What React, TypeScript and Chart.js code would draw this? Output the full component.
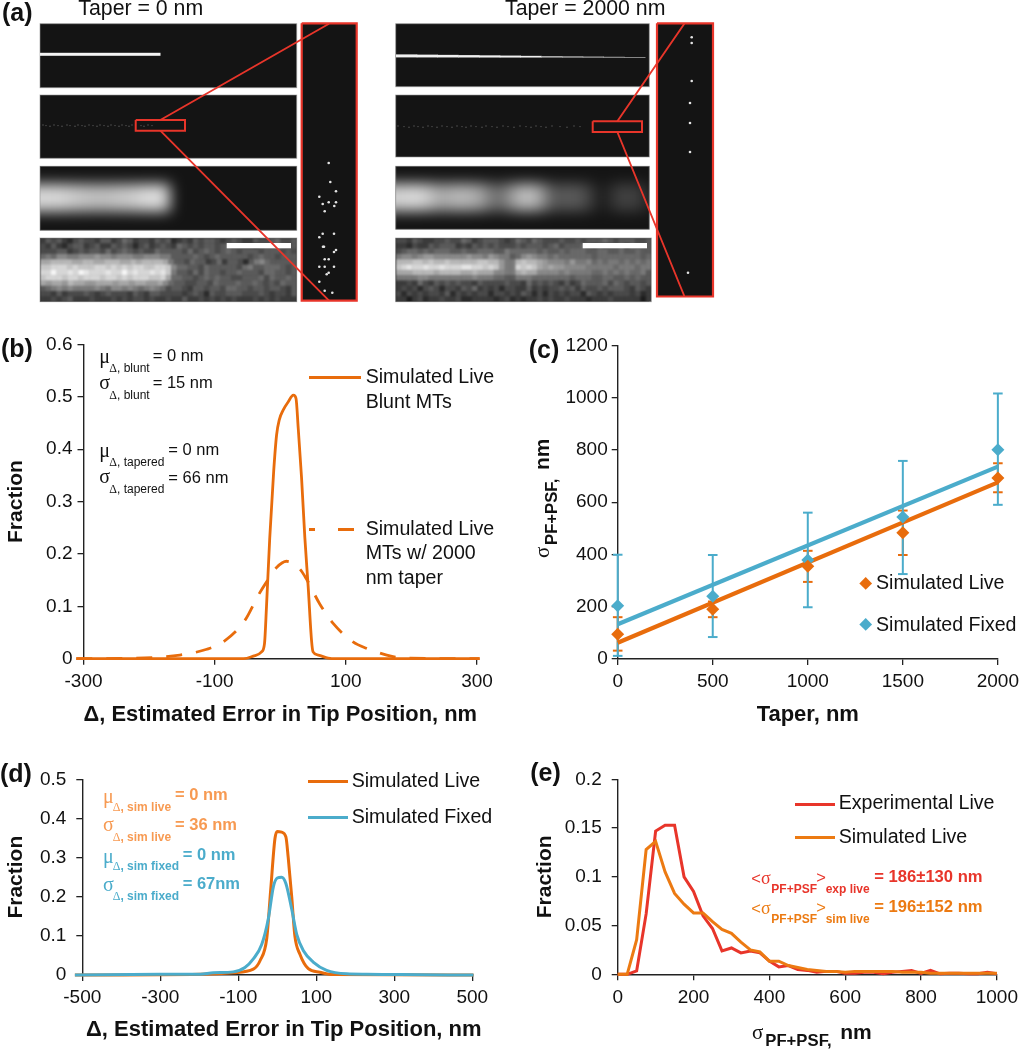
import React, { useEffect, useRef } from "react";
import { Chart, registerables } from "chart.js";

Chart.register(...registerables);

/* ---------- data ---------- */
const BLUNT_X = [-311, -200, -56, -41, -28.5, -24, -21, -16, -10, -5.6, -1.5, 4.6, 12, 20, 24, 27.4, 32.5, 37.5, 42.6, 47.7, 50, 58, 73, 86, 200, 304];
const BLUNT_Y = [0, 0, 0, 0.005, 0.013, 0.029, 0.099, 0.231, 0.358, 0.427, 0.456, 0.475, 0.49, 0.503, 0.497, 0.44, 0.345, 0.231, 0.137, 0.035, 0.013, 0.007, 0.001, 0, 0, 0];
const TAPERED_X = [-311, -220, -153, -112, -87, -54, -33.5, -18, -5.6, 9.6, 30, 40, 60, 81, 111, 131, 172, 197, 304];
const TAPERED_Y = [0, 0.001, 0.007, 0.018, 0.032, 0.073, 0.121, 0.152, 0.174, 0.186, 0.171, 0.152, 0.105, 0.067, 0.032, 0.02, 0.004, 0.001, 0];

const TAPER = [0, 500, 1000, 1500, 2000];
const LIVE_SIGMA = [95, 190, 355, 483, 693];
const LIVE_LOW = [32, 160, 295, 398, 638];
const LIVE_HIGH = [160, 220, 414, 568, 749];
const FIXED_SIGMA = [204, 240, 379, 543, 801];
const FIXED_LOW = [12, 84, 198, 325, 590];
const FIXED_HIGH = [399, 398, 560, 758, 1016];
const FIT_X = [0, 2000];
const LIVE_FIT = [62, 676];
const FIXED_FIT = [133, 736];

const D_LIVE_X = [-519, -198, -113, -61.5, -44, -27, -17, -6, 0, 11, 22, 28, 37, 45, 58, 79.5, 109, 144, 503];
const D_LIVE_Y = [0, 0.002, 0.006, 0.015, 0.037, 0.094, 0.217, 0.349, 0.367, 0.365, 0.353, 0.3, 0.2, 0.1, 0.053, 0.016, 0.007, 0.001, 0];
const D_FIXED_X = [-519, -301, -198, -164, -113, -83, -61.5, -40, -23, -10, 0, 11, 22, 37, 50, 67, 92, 126.5, 178, 229, 315, 503];
const D_FIXED_Y = [0, 0.002, 0.002, 0.006, 0.008, 0.019, 0.041, 0.078, 0.144, 0.226, 0.248, 0.25, 0.234, 0.168, 0.103, 0.062, 0.033, 0.012, 0.003, 0.002, 0.001, 0];

const E_BINS = [0, 25, 50, 75, 100, 125, 150, 175, 200, 225, 250, 275, 300, 325, 350, 375, 400, 425, 450, 475, 500, 525, 550, 575, 600, 625, 650, 675, 700, 725, 750, 775, 800, 825, 850, 875, 900, 925, 950, 975, 1000];
const E_EXPERIMENTAL = [0, 0, 0.0036, 0.062, 0.147, 0.153, 0.153, 0.1, 0.085, 0.06, 0.047, 0.024, 0.027, 0.022, 0.024, 0.022, 0.0135, 0.0076, 0.009, 0.005, 0.004, 0.002, 0.003, 0.003, 0.001, 0.001, 0.002, 0.002, 0.0005, 0.002, 0.003, 0.004, 0.001, 0.004, 0.0005, 0.001, 0.001, 0.0005, 0.0005, 0.002, 0.0005];
const E_SIMULATED = [0, 0, 0.0355, 0.128, 0.1365, 0.105, 0.083, 0.072, 0.063, 0.063, 0.054, 0.046, 0.042, 0.033, 0.025, 0.023, 0.0135, 0.0135, 0.009, 0.007, 0.005, 0.004, 0.003, 0.003, 0.002, 0.003, 0.003, 0.003, 0.003, 0.003, 0.002, 0.002, 0.002, 0.001, 0.001, 0.001, 0.001, 0.001, 0.001, 0.001, 0.001];

/* panel (a): intensities of the micrographs */
const LEFT_CAMERA = [
  "35453245443553465344354523435455434543354456445",
  "43532455345335454245345436545455456554435556545",
  "44455345455464565454465555464565456545554555454",
  "67688778889887888778887755556545655555456554555",
  "aabbbbaabbaabbbaababbbba755465534635542578655555",
  "ccdddcdcccddcdcdcddccddc86655465555546755666545",
  "ddfddedfedddeddfdeddedec75546465545565554665545",
  "cdddcddcdddcddcdcdddccda66554565655445556465565",
  "a9aa9baa99aaa9aa9aa99a865544554655565565454655",
  "56787877778768878767876455435545546655455455435",
  "44353444543454443543554444345425445554445434435",
  "33434533343334343443433433533434343433343434333",
];
const RIGHT_CAMERA = [
  "44354334454465345554346546544454454555654555445",
  "33243354555343545454445455545645556545455646555",
  "45665656665565566655766666565565666556655655655",
  "78878998888889887987756898776766666656666666656",
  "bbbccbcbbcbbbbbccbb977bcbba98887977867677676767",
  "cdeddeddedddeeddcdc977dcdca9a998888777776777677",
  "aaabbbbabbbbaabaaa8877abaa888878777766767676675",
  "77778877777777877766557776666666566655665565655",
  "33436435454544354444544364545435346555646545545",
  "34342454244354634342443353434454535445455543543",
  "42434344352434344244343542424343442543434443423",
  "33134233433422333323423233434334333233343333313",
];
const LEFT_GLOW = [215, 215, 210, 200, 195, 190, 190, 195, 200, 205, 218, 222, 205];
const RIGHT_GLOW = [210, 215, 215, 190, 170, 175, 185, 175, 165, 120, 110, 150, 185, 190, 160, 95, 85, 90, 85, 60, 25, 45, 65, 65, 55, 30];
const TAPER_WIDTHS = [3, 2.8, 2.6, 2.4, 2.2, 2, 1.7, 1.5, 1.3, 1.1, 0.9, 0.7];
const LEFT_INSET_DOTS = [[328.7, 163], [330.3, 182], [336, 191.3], [319.3, 196.7], [322.7, 204], [328.7, 202.3], [336, 202.3], [334.3, 206], [324.7, 211.3], [322.7, 233.7], [334, 233.7], [319.3, 237.3], [323, 246.7], [324, 246.7], [336, 250], [334, 252], [324.7, 259.3], [328.7, 259.3], [319.3, 266.7], [324.7, 266.7], [334, 266.7], [328.7, 272.7], [326.7, 274.3], [319.3, 281.7], [324.7, 290.7], [332.3, 292.7]];
const RIGHT_INSET_DOTS = [[691.7, 37.3], [691.7, 43], [691.7, 81], [690, 103], [690, 123], [690, 152], [688, 272.7]];
const LEFT_SPECKS = [43, 46, 50, 54, 58, 62, 67, 70, 75, 78, 82, 85, 89, 93, 97, 100, 104, 108, 111, 115, 119, 122, 126, 129, 132, 141, 144, 148, 152];
const RIGHT_SPECKS = [398, 404, 409, 414, 418, 423, 428, 432, 437, 442, 447, 452, 457, 462, 466, 471, 476, 482, 486, 492, 497, 503, 508, 514, 520, 526, 531, 536, 541, 546, 552, 560, 567, 574, 580];

/* ---------- styles and layout ---------- */
const ORANGE = "#e86c0c";
const ORANGE_E = "#ec7a12";
const TEAL = "#4baccb";
const RED = "#e8352a";
const SOFT_ORANGE = "#f79a52";
const INK = "#111";
const SANS = '"Liberation Sans", Arial, sans-serif';
const SERIF = '"Liberation Serif", serif';
const DARK = "#141414";

const zip = (xs: number[], ys: number[]) => xs.map((x, i) => ({ x, y: ys[i] }));

type Geom = { x: number; y: number; w: number; h: number; l: number; r: number; t: number; b: number };

function axis(g: Geom, horizontal: boolean, o: any) {
  return {
    type: "linear",
    min: o.min,
    max: o.max,
    title: o.title
      ? { display: true, text: o.title, color: INK, padding: o.titlePad ?? 0, font: { family: SANS, size: o.titleSize, weight: "bold" } }
      : { display: false },
    border: { display: true, color: "#222", width: 1.4 },
    grid: { drawOnChartArea: false, drawTicks: true, tickLength: 6, color: "#222", lineWidth: 1.3 },
    ticks: {
      stepSize: o.step,
      autoSkip: false,
      maxRotation: 0,
      minRotation: 0,
      padding: o.pad,
      color: INK,
      font: { family: SANS, size: 19 },
      callback: (v: number) => String(Number(Number(v).toFixed(2))),
    },
    afterFit: (s: any) => {
      if (horizontal) s.height = g.y + g.h - g.b;
      else s.width = g.l - g.x;
    },
  };
}

function plotOptions(g: Geom, xo: any, yo: any) {
  return {
    responsive: false,
    animation: false,
    events: [],
    layout: { autoPadding: false, padding: { left: 0, bottom: 0, top: g.t - g.y, right: g.x + g.w - g.r } },
    plugins: { legend: { display: false }, tooltip: { enabled: false } },
    scales: { x: axis(g, true, xo), y: axis(g, false, yo) },
  };
}

function curve(data: any[], color: string, width: number, extra: any = {}) {
  return {
    data,
    showLine: true,
    borderColor: color,
    backgroundColor: color,
    borderWidth: width,
    pointRadius: 0,
    cubicInterpolationMode: "monotone",
    clip: false,
    ...extra,
  };
}

function stems(xs: number[], lows: number[], highs: number[], color: string) {
  const data: any[] = [];
  xs.forEach((x, i) => {
    data.push({ x, y: lows[i] }, { x, y: highs[i] }, { x, y: null });
  });
  return { data, showLine: true, spanGaps: false, borderColor: color, borderWidth: 2, pointRadius: 0, clip: false };
}

function caps(xs: number[], ys: number[], color: string) {
  return {
    data: zip(xs, ys),
    showLine: false,
    pointStyle: "line",
    pointRadius: 4.8,
    pointBorderWidth: 2,
    borderColor: color,
    pointBorderColor: color,
    clip: false,
  };
}

function diamonds(xs: number[], ys: number[], color: string) {
  return {
    data: zip(xs, ys),
    showLine: false,
    pointStyle: "rectRot",
    pointRadius: 6.5,
    pointBorderWidth: 0,
    backgroundColor: color,
    pointBackgroundColor: color,
    clip: false,
  };
}

/* ---------- panel (a) ---------- */
const LEFT_X: [number, number] = [40, 296.7];
const RIGHT_X: [number, number] = [395.7, 649.3];
const A_ROWS_LEFT = [[23.7, 87.7], [95, 158.3], [166.3, 230.3], [238, 301.7]];
const A_ROWS_RIGHT = [[23.7, 86.7], [95, 157], [166.3, 229.3], [238, 301.7]];
const LEFT_BOX = { x0: 135.7, x1: 185, y0: 120, y1: 130.7 };
const RIGHT_BOX = { x0: 592.7, x1: 642, y0: 121.3, y1: 132 };
const LEFT_FRAME = { x0: 301.7, x1: 356.7, y0: 23.3, y1: 300.7 };
const RIGHT_FRAME = { x0: 657, x1: 713, y0: 23.3, y1: 296.5 };

const outline = (b: any) => [
  { x: b.x0, y: b.y0 }, { x: b.x1, y: b.y0 }, { x: b.x1, y: b.y1 }, { x: b.x0, y: b.y1 }, { x: b.x0, y: b.y0 },
];

function paintBlurred(ctx: any, rect: number[], blur: number, paint: (c: any, ox: number, oy: number) => void) {
  const [x0, y0, x1, y1] = rect;
  const off = document.createElement("canvas");
  const pad = 40;
  off.width = Math.ceil(x1 - x0) + pad * 2;
  off.height = Math.ceil(y1 - y0) + pad * 2;
  const c = off.getContext("2d") as any;
  c.fillStyle = DARK;
  c.fillRect(0, 0, off.width, off.height);
  paint(c, pad - x0, pad - y0);
  ctx.save();
  ctx.beginPath();
  ctx.rect(x0, y0, x1 - x0, y1 - y0);
  ctx.clip();
  ctx.filter = `blur(${blur}px)`;
  ctx.drawImage(off, x0 - pad, y0 - pad);
  ctx.restore();
}

const grey = (v: number) => {
  const n = Math.max(0, Math.min(255, Math.round(v)));
  return `rgb(${n},${n},${n})`;
};

const micrographs = {
  id: "micrographs",
  beforeDatasetsDraw(chart: any) {
    const ctx = chart.ctx;
    const px = (v: number) => chart.scales.x.getPixelForValue(v);
    const py = (v: number) => chart.scales.y.getPixelForValue(v);
    ctx.save();
    const frameRect = (b: any) => {
      ctx.fillStyle = DARK;
      ctx.fillRect(px(b.x0), py(b.y0), px(b.x1) - px(b.x0), py(b.y1) - py(b.y0));
    };
    frameRect(LEFT_FRAME);
    frameRect(RIGHT_FRAME);
    const strip = (xr: number[], rows: number[][], glow: number[], camera: string[], extendEnd: number) => {
      rows.forEach(([y0, y1]) => {
        ctx.fillStyle = DARK;
        ctx.fillRect(px(xr[0]), py(y0), px(xr[1]) - px(xr[0]), py(y1) - py(y0));
      });
      // diffraction-limited row
      const [gy0, gy1] = rows[2];
      const mid = (gy0 + gy1) / 2 - 0.5;
      paintBlurred(ctx, [xr[0], gy0, xr[1], gy1], 7, (c, ox, oy) => {
        glow.forEach((v, i) => {
          c.fillStyle = grey(v);
          const extra = i === 0 ? 30 : 0;
          c.fillRect(xr[0] + i * 10 - extra + ox, mid - 14 + oy, 10.5 + extra, 28);
        });
      });
      // camera row
      const [cy0, cy1] = rows[3];
      const cx1 = xr[1] + extendEnd;
      paintBlurred(ctx, [xr[0], cy0, cx1, cy1], 0.8, (c, ox, oy) => {
        const rh = (cy1 - cy0) / camera.length;
        camera.forEach((row, j) => {
          const cw = (cx1 - xr[0]) / row.length;
          for (let i = 0; i < row.length; i++) {
            c.fillStyle = grey(12 + parseInt(row[i], 16) * 15.5);
            c.fillRect(xr[0] + i * cw + ox, cy0 + j * rh + oy, cw + 0.5, rh + 0.5);
          }
        });
      });
      // thin frames
      ctx.strokeStyle = "rgba(150,150,150,0.6)";
      ctx.lineWidth = 1;
      rows.forEach(([y0, y1], k) => {
        ctx.strokeRect(px(xr[0]), py(y0), px(xr[1] + (k === 3 ? extendEnd : 0)) - px(xr[0]), py(y1) - py(y0));
      });
    };
    strip(LEFT_X, A_ROWS_LEFT, LEFT_GLOW, LEFT_CAMERA, 0);
    strip(RIGHT_X, A_ROWS_RIGHT, RIGHT_GLOW, RIGHT_CAMERA, 2);
    // filament, blunt
    ctx.fillStyle = "#f4f4f4";
    ctx.fillRect(px(40), py(52.8), px(160.5) - px(40), 3);
    // filament, tapered
    const seg = (645 - 396) / TAPER_WIDTHS.length;
    TAPER_WIDTHS.forEach((w, i) => {
      ctx.fillStyle = i < 7 ? "#f0f0f0" : "#b8b8b8";
      ctx.fillRect(px(396 + i * seg), py(54.4 + (i / TAPER_WIDTHS.length) * 1.6) + (3 - w) / 2, seg + 0.5, w);
    });
    // scale bars
    ctx.fillStyle = "#fff";
    ctx.fillRect(px(226.7), py(243), 64.3, 5.3);
    ctx.fillRect(px(582.7), py(243), 64.3, 5.3);
    ctx.restore();
  },
};

function leftEdgeLines(box: any, tip: number[], foot: number[]) {
  const mx = (box.x0 + box.x1) / 2;
  return [
    { x: mx, y: box.y0 }, { x: tip[0], y: tip[1] }, { x: null, y: null },
    { x: mx, y: box.y1 }, { x: foot[0], y: foot[1] },
  ];
}

function PanelA() {
  const ref = useRef<HTMLCanvasElement>(null);
  useEffect(() => {
    const red = (data: any[], w = 1.9) => ({ data, showLine: true, spanGaps: false, tension: 0, borderColor: RED, borderWidth: w, pointRadius: 0, clip: false });
    const dots = (pts: number[][]) => ({ data: pts.map(([x, y]) => ({ x, y })), showLine: false, pointRadius: 1.3, pointBorderWidth: 0, pointBackgroundColor: "#e4e4e4" });
    const specks = (xs: number[], y: number) => ({ data: xs.map((x, i) => ({ x, y: y + (i % 3) * 0.6 })), showLine: false, pointRadius: 0.7, pointBorderWidth: 0, pointBackgroundColor: "#5c5c5c" });
    const chart = new Chart(ref.current as any, {
      type: "scatter",
      data: {
        datasets: [
          red(outline(LEFT_BOX), 2),
          red(outline(RIGHT_BOX), 2),
          red(leftEdgeLines(LEFT_BOX, [329, 23.7], [329, 300.7])),
          red(leftEdgeLines(RIGHT_BOX, [684.3, 23.7], [684.3, 296])),
          red(outline(LEFT_FRAME), 2.2),
          red(outline(RIGHT_FRAME), 2.2),
          dots(LEFT_INSET_DOTS),
          dots(RIGHT_INSET_DOTS),
          specks(LEFT_SPECKS, 125),
          specks(RIGHT_SPECKS, 126),
        ] as any,
      },
      options: {
        responsive: false,
        animation: false,
        events: [],
        layout: { autoPadding: false, padding: 0 },
        plugins: { legend: { display: false }, tooltip: { enabled: false } },
        scales: {
          x: { type: "linear", min: 0, max: 1024, display: false },
          y: { type: "linear", min: 0, max: 306, reverse: true, display: false },
        },
      } as any,
      plugins: [micrographs as any],
    });
    return () => chart.destroy();
  }, []);
  return <canvas ref={ref} width={1024} height={306} style={{ position: "absolute", left: 0, top: 0, display: "block" }} />;
}

/* ---------- charts ---------- */
function Plot({ g, datasets, xo, yo }: { g: Geom; datasets: () => any[]; xo: any; yo: any }) {
  const ref = useRef<HTMLCanvasElement>(null);
  useEffect(() => {
    const chart = new Chart(ref.current as any, {
      type: "scatter",
      data: { datasets: datasets() },
      options: plotOptions(g, xo, yo) as any,
    });
    return () => chart.destroy();
  }, []);
  return <canvas ref={ref} width={g.w} height={g.h} style={{ position: "absolute", left: g.x, top: g.y, display: "block" }} />;
}

const GB: Geom = { x: 0, y: 328, w: 510, h: 400, l: 83.5, r: 477, t: 342, b: 658.7 };
const GC: Geom = { x: 530, y: 330, w: 494, h: 398, l: 617.7, r: 1002, t: 344.3, b: 659 };
const GD: Geom = { x: 0, y: 758, w: 510, h: 284, l: 82.3, r: 472.3, t: 771.7, b: 975 };
const GE: Geom = { x: 531, y: 758, w: 493, h: 270, l: 617.7, r: 1002, t: 771.7, b: 974.3 };

/* ---------- text helpers ---------- */
function T({ x, y, s = 19, b = false, c = INK, f = SANS, children }: any) {
  return (
    <div
      style={{
        position: "absolute",
        left: x,
        top: y,
        transform: "translateY(-50%)",
        fontFamily: f,
        fontSize: s,
        fontWeight: b ? "bold" : "normal",
        color: c,
        whiteSpace: "nowrap",
        lineHeight: 1,
      }}
    >
      {children}
    </div>
  );
}

function Swatch({ x0, x1, y, c, h = 3 }: any) {
  return <div style={{ position: "absolute", left: x0, top: y - h / 2, width: x1 - x0, height: h, background: c }} />;
}

function Delta({ s = 12 }: any) {
  return <span style={{ fontFamily: SERIF, fontWeight: "normal", fontSize: s }}>Δ</span>;
}

function Stat({ sym, sub, val, xSym, xSub, xVal, ySym, ySub, yVal, c, b }: any) {
  return (
    <>
      <T x={xSym} y={ySym} s={20} f={SERIF} c={c}>{sym}</T>
      <T x={xSub} y={ySub} s={12} b={b} c={c}><Delta />{sub}</T>
      <T x={xVal} y={yVal} s={16.5} b={b} c={c}>{val}</T>
    </>
  );
}

export default function App() {
  return (
    <div style={{ position: "absolute", left: 0, top: 0, width: 1024, height: 1050, background: "#fff", overflow: "hidden" }}>
      <PanelA />
      <T x={2} y={12} s={25} b>(a)</T>
      <T x={78.3} y={9} s={21.3}>Taper = 0 nm</T>
      <T x={505} y={8.5} s={21.3}>Taper = 2000 nm</T>

      {/* (b) */}
      <Plot
        g={GB}
        xo={{ min: -300, max: 300, step: 200, pad: 6, title: "Δ, Estimated Error in Tip Position, nm", titleSize: 22 }}
        yo={{ min: 0, max: 0.6, step: 0.1, pad: 5, title: "Fraction", titleSize: 21, titlePad: 4 }}
        datasets={() => [
          curve(zip(BLUNT_X, BLUNT_Y), ORANGE, 2.8),
          curve(zip(TAPERED_X, TAPERED_Y), ORANGE, 2.8, { borderDash: [16, 14] }),
        ]}
      />
      <T x={1} y={347.7} s={25} b>(b)</T>
      <Stat sym="μ" sub=", blunt" val="= 0 nm" xSym={99.3} xSub={109.3} xVal={152.7} ySym={356} ySub={367.7} yVal={355} />
      <Stat sym="σ" sub=", blunt" val="= 15 nm" xSym={99.3} xSub={109.3} xVal={152.7} ySym={382} ySub={395} yVal={382.3} />
      <Stat sym="μ" sub=", tapered" val="= 0 nm" xSym={99.3} xSub={109.3} xVal={168.3} ySym={450} ySub={461.7} yVal={449} />
      <Stat sym="σ" sub=", tapered" val="= 66 nm" xSym={99.3} xSub={109.3} xVal={168.3} ySym={476} ySub={489} yVal={476.5} />
      <Swatch x0={309} x1={361} y={377.3} c={ORANGE} />
      <T x={365.7} y={377} s={19.6}>Simulated Live</T>
      <T x={365.7} y={401.7} s={19.6}>Blunt MTs</T>
      <Swatch x0={309} x1={315} y={529.3} c={ORANGE} />
      <Swatch x0={338} x1={354} y={529.3} c={ORANGE} />
      <T x={365.7} y={529} s={19.6}>Simulated Live</T>
      <T x={365.7} y={553} s={19.6}>MTs w/ 2000</T>
      <T x={365.7} y={577.7} s={19.6}>nm taper</T>

      {/* (c) */}
      <Plot
        g={GC}
        xo={{ min: 0, max: 2000, step: 500, pad: 5, title: "Taper, nm", titleSize: 22 }}
        yo={{ min: 0, max: 1200, step: 200, pad: 4 }}
        datasets={() => [
          diamonds(TAPER, LIVE_SIGMA, ORANGE),
          diamonds(TAPER, FIXED_SIGMA, TEAL),
          curve(zip(FIT_X, FIXED_FIT), TEAL, 4.2, { cubicInterpolationMode: "default", tension: 0 }),
          curve(zip(FIT_X, LIVE_FIT), ORANGE, 4.2, { cubicInterpolationMode: "default", tension: 0 }),
          caps(TAPER, FIXED_LOW, TEAL),
          caps(TAPER, FIXED_HIGH, TEAL),
          stems(TAPER, FIXED_LOW, FIXED_HIGH, TEAL),
          caps(TAPER, LIVE_LOW, ORANGE),
          caps(TAPER, LIVE_HIGH, ORANGE),
          stems(TAPER, LIVE_LOW, LIVE_HIGH, ORANGE),
        ]}
      />
      <T x={528.7} y={349.3} s={25} b>(c)</T>
      <div style={{ position: "absolute", left: 0, top: 558, width: 0, height: 0, transform: "rotate(-90deg)", transformOrigin: "0 0" }}>
        <T x={0} y={542} s={21} f={SERIF}>σ</T>
        <T x={13} y={552} s={16.7} b>PF+PSF,</T>
        <T x={88} y={541} s={21} b>nm</T>
      </div>
      <div style={{ position: "absolute", left: 861, top: 578.5, width: 9.4, height: 9.4, background: ORANGE, transform: "rotate(45deg)" }} />
      <div style={{ position: "absolute", left: 861, top: 620, width: 9.4, height: 9.4, background: TEAL, transform: "rotate(45deg)" }} />
      <T x={876} y={583} s={19.6}>Simulated Live</T>
      <T x={876} y={624.5} s={19.6}>Simulated Fixed</T>

      {/* (d) */}
      <Plot
        g={GD}
        xo={{ min: -500, max: 500, step: 200, pad: 5 }}
        yo={{ min: 0, max: 0.5, step: 0.1, pad: 10, title: "Fraction", titleSize: 21, titlePad: 4 }}
        datasets={() => [
          curve(zip(D_FIXED_X, D_FIXED_Y), TEAL, 3),
          curve(zip(D_LIVE_X, D_LIVE_Y), ORANGE, 3),
        ]}
      />
      <T x={0} y={773.3} s={25} b>(d)</T>
      <T x={86} y={1029} s={22} b>Δ, Estimated Error in Tip Position, nm</T>
      <Stat b c={SOFT_ORANGE} sym="μ" sub=", sim live" val="= 0 nm" xSym={103} xSub={112.7} xVal={175} ySym={796} ySub={807} yVal={794} />
      <Stat b c={SOFT_ORANGE} sym="σ" sub=", sim live" val="= 36 nm" xSym={103} xSub={112.7} xVal={175} ySym={824} ySub={836.5} yVal={824} />
      <Stat b c={TEAL} sym="μ" sub=", sim fixed" val="= 0 nm" xSym={103} xSub={112.7} xVal={182.7} ySym={855.5} ySub={866} yVal={854} />
      <Stat b c={TEAL} sym="σ" sub=", sim fixed" val="= 67nm" xSym={103} xSub={112.7} xVal={182.7} ySym={884} ySub={895.7} yVal={883} />
      <Swatch x0={307.7} x1={347.7} y={781} c={ORANGE} />
      <Swatch x0={307.7} x1={347.7} y={817} c={TEAL} />
      <T x={351.7} y={781} s={19.6}>Simulated Live</T>
      <T x={351.7} y={817} s={19.6}>Simulated Fixed</T>

      {/* (e) */}
      <Plot
        g={GE}
        xo={{ min: 0, max: 1000, step: 200, pad: 6 }}
        yo={{ min: 0, max: 0.2, step: 0.05, pad: 10, title: "Fraction", titleSize: 21, titlePad: 2 }}
        datasets={() => [
          curve(zip(E_BINS, E_SIMULATED), ORANGE_E, 3, { cubicInterpolationMode: "default", tension: 0 }),
          curve(zip(E_BINS, E_EXPERIMENTAL), RED, 3, { cubicInterpolationMode: "default", tension: 0 }),
        ]}
      />
      <T x={530.3} y={771.7} s={25} b>(e)</T>
      <Swatch x0={794.7} x1={834.7} y={804} c={RED} />
      <Swatch x0={794.7} x1={834.7} y={837.3} c={ORANGE_E} />
      <T x={838.7} y={803.3} s={19.6}>Experimental Live</T>
      <T x={838.7} y={837} s={19.6}>Simulated Live</T>
      <T x={751.3} y={878} s={16.5} c={RED}>&lt;<span style={{ fontFamily: SERIF, fontSize: 18 }}>σ</span></T>
      <T x={771.3} y={889.3} s={12} b c={RED}>PF+PSF</T>
      <T x={816.3} y={877} s={16.5} c={RED}>&gt;</T>
      <T x={825.7} y={889.3} s={12} b c={RED}>exp live</T>
      <T x={874.3} y={877} s={16.6} b c={RED}>= 186±130 nm</T>
      <T x={751.3} y={908.3} s={16.5} c={ORANGE_E}>&lt;<span style={{ fontFamily: SERIF, fontSize: 18 }}>σ</span></T>
      <T x={771.3} y={919.3} s={12} b c={ORANGE_E}>PF+PSF</T>
      <T x={816.3} y={907.3} s={16.5} c={ORANGE_E}>&gt;</T>
      <T x={825.7} y={919.3} s={12} b c={ORANGE_E}>sim live</T>
      <T x={874.3} y={907.3} s={16.6} b c={ORANGE_E}>= 196±152 nm</T>
      <T x={752} y={1031.7} s={21} f={SERIF}>σ</T>
      <T x={765.3} y={1041} s={16.7} b>PF+PSF,</T>
      <T x={840.3} y={1031} s={21} b>nm</T>
    </div>
  );
}
